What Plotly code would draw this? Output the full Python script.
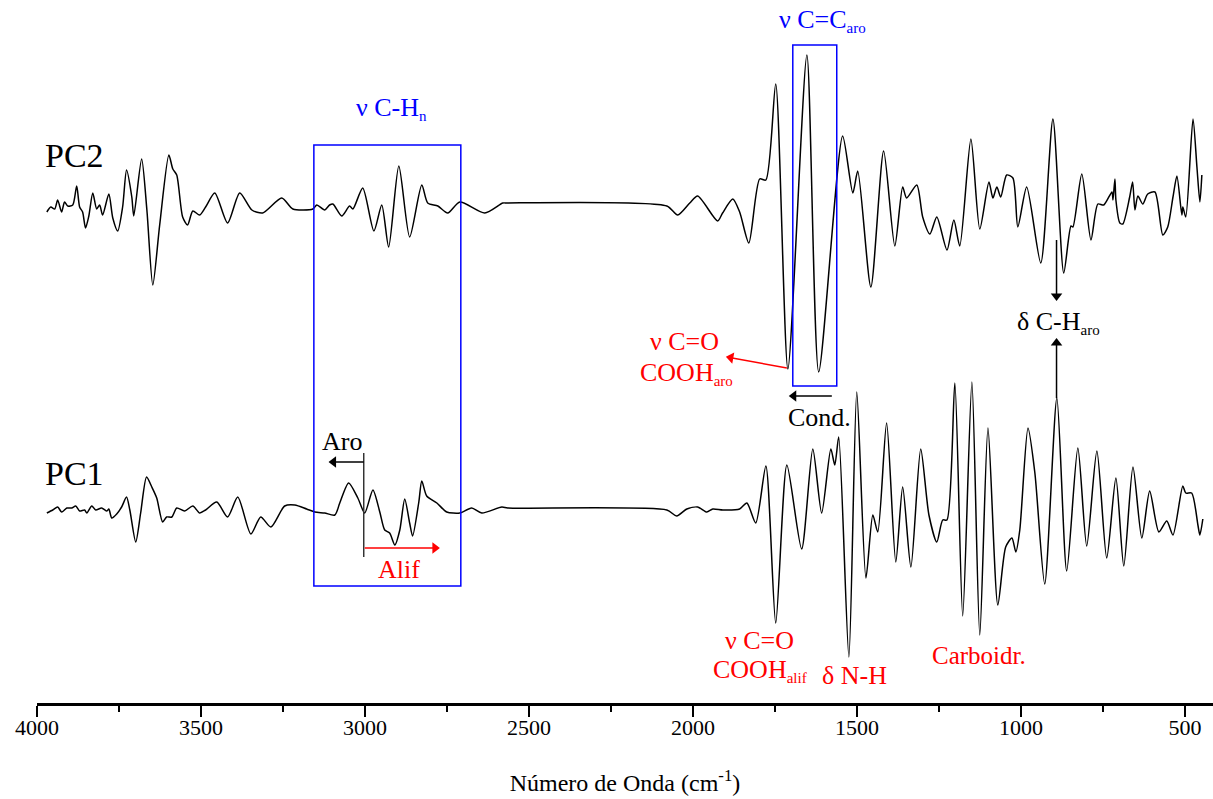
import plotly.graph_objects as go

# ---------------- data ----------------
# wavenumber (cm-1) and loading (arbitrary units) for PC2
pc2_wn = [3970, 3958, 3946, 3937, 3925, 3916, 3906, 3891, 3879, 3870, 3861, 3852, 3842, 3830,
          3818, 3809, 3800, 3781, 3769, 3754, 3739, 3727, 3711, 3705, 3681, 3665, 3647, 3626,
          3598, 3586, 3574, 3556, 3541, 3525, 3504, 3486, 3458, 3419, 3382, 3345, 3312, 3254,
          3220, 3159, 3147, 3123, 3108, 3098, 3071, 3047, 3037, 3007, 2973, 2949, 2928, 2897,
          2864, 2827, 2809, 2778, 2748, 2711, 2635, 2580, 2568, 2080, 2047, 2010, 1986, 1925,
          1910, 1879, 1858, 1830, 1797, 1778, 1748, 1711, 1653, 1617, 1544, 1513, 1498, 1458,
          1419, 1385, 1361, 1349, 1318, 1300, 1278, 1257, 1226, 1205, 1187, 1153, 1126, 1098,
          1086, 1074, 1062, 1044, 1025, 1010, 983, 940, 903, 870, 848, 842, 815, 787, 766, 748,
          723, 720, 714, 711, 699, 690, 669, 660, 653, 644, 629, 614, 592, 568, 553, 537, 525,
          510, 507, 498, 476, 464, 455, 449]
pc2_val = [-0.05, 0.0, -0.02, 0.07, -0.05, 0.05, 0.01, 0.02, 0.21, 0.0, -0.05, -0.21, -0.09, 0.14,
           -0.02, 0.02, -0.08, 0.13, -0.11, -0.24, 0.0, 0.37, 0.10, -0.09, 0.48, -0.03, -0.78, -0.18,
           0.52, 0.38, 0.32, -0.10, -0.18, -0.04, -0.08, 0.0, 0.14, -0.16, 0.14, -0.03, -0.06, 0.09,
           -0.02, -0.02, 0.02, -0.03, 0.02, 0.03, -0.09, 0.01, -0.02, 0.19, -0.24, 0.02, -0.40, 0.41,
           -0.30, 0.22, 0.04, 0.01, -0.06, 0.05, -0.06, 0.04, 0.04, 0.01, -0.08, 0.04, 0.11, -0.14,
           -0.06, 0.08, -0.05, -0.36, 0.28, 0.27, 1.23, -1.62, 1.52, -1.65, 0.71, 0.14, 0.36, -0.80,
           0.56, -0.39, 0.20, 0.09, 0.22, -0.10, -0.27, -0.10, -0.43, -0.13, -0.39, 0.68, -0.22, 0.25,
           0.09, 0.20, 0.10, 0.32, 0.29, -0.20, 0.20, -0.56, 0.88, -0.66, -0.19, -0.20, 0.33, -0.33,
           0.03, 0.02, 0.15, 0.07, 0.28, 0.07, -0.16, -0.17, 0.10, 0.25, -0.03, 0.11, 0.03, 0.13,
           0.15, -0.28, -0.20, 0.10, 0.31, -0.08, 0.0, -0.10, 0.88, 0.40, 0.05, 0.32]

# wavenumber (cm-1) and loading (arbitrary units) for PC1
pc1_wn = [3970, 3952, 3937, 3925, 3909, 3894, 3882, 3870, 3855, 3848, 3833, 3821, 3803, 3787,
          3781, 3772, 3757, 3742, 3727, 3717, 3699, 3684, 3666, 3650, 3635, 3617, 3605, 3589,
          3574, 3550, 3525, 3504, 3486, 3452, 3419, 3388, 3348, 3318, 3287, 3245, 3214, 3178,
          3153, 3123, 3092, 3077, 3050, 3022, 3001, 2976, 2955, 2940, 2925, 2909, 2894, 2879,
          2864, 2855, 2836, 2827, 2812, 2781, 2751, 2711, 2675, 2644, 2583, 2565, 2080, 2050,
          2019, 1986, 1958, 1940, 1909, 1858, 1836, 1809, 1778, 1748, 1714, 1669, 1635, 1608,
          1580, 1568, 1556, 1525, 1501, 1473, 1452, 1437, 1410, 1382, 1361, 1336, 1306, 1281,
          1257, 1239, 1226, 1202, 1178, 1150, 1126, 1101, 1071, 1047, 1028, 1016, 1004, 979,
          958, 928, 891, 861, 827, 800, 769, 739, 711, 687, 659, 632, 608, 580, 556, 537, 507,
          498, 480, 461, 455, 446]
pc1_val = [-0.03, 0.0, 0.03, -0.02, 0.02, 0.02, 0.04, -0.01, 0.0, -0.03, 0.04, 0.0, 0.02, -0.01,
           0.01, -0.08, -0.04, 0.03, 0.13, 0.0, -0.32, -0.03, 0.33, 0.23, 0.12, -0.12, -0.07, -0.07,
           0.02, -0.01, 0.04, -0.03, 0.0, 0.08, -0.07, 0.13, -0.24, -0.07, -0.17, 0.04, 0.05, 0.01,
           -0.02, -0.03, -0.05, 0.07, 0.27, 0.12, -0.03, 0.20, -0.02, -0.20, -0.23, -0.35, -0.20, 0.11,
           -0.13, -0.26, 0.08, 0.29, 0.14, 0.07, -0.02, -0.03, 0.02, -0.03, 0.03, 0.02, 0.0, -0.06,
           0.01, 0.03, -0.02, 0.01, 0.0, 0.01, 0.07, -0.13, 0.44, -1.13, 0.45, -0.39, 0.61, -0.03,
           0.61, 0.45, 0.73, -1.47, 1.18, -0.68, -0.05, -0.22, 0.87, -0.52, 0.23, -0.57, 0.61, -0.05,
           -0.32, -0.10, -0.10, 1.27, -1.06, 1.28, -1.25, 0.82, -0.95, -0.37, -0.28, -0.42, -0.20, 0.82,
           0.37, -0.74, 1.12, -0.61, 0.62, -0.36, 0.59, -0.48, 0.32, -0.56, 0.43, -0.28, 0.19, -0.22,
           -0.11, -0.25, 0.24, 0.17, 0.17, -0.15, -0.25, -0.09]

x_ticks = [4000, 3500, 3000, 2500, 2000, 1500, 1000, 500]
x_title = "Número de Onda (cm<sup>-1</sup>)"

# ---------------- layout constants ----------------
PC2_OFFSET = 4.96
PC1_OFFSET = 1.93
FONT = "Liberation Serif"
RED = "#ff0000"
BLUE = "#0000ff"

fig = go.Figure()
fig.add_trace(go.Scatter(x=pc2_wn, y=[v + PC2_OFFSET for v in pc2_val], mode="lines",
                         line=dict(color="black", width=1.5, shape="spline", smoothing=0.7),
                         showlegend=False, hoverinfo="skip"))
fig.add_trace(go.Scatter(x=pc1_wn, y=[v + PC1_OFFSET for v in pc1_val], mode="lines",
                         line=dict(color="black", width=1.5, shape="spline", smoothing=0.7),
                         showlegend=False, hoverinfo="skip"))

# boxes
fig.add_shape(type="rect", x0=3156, x1=2708, y0=1.17, y1=5.58, line=dict(color=BLUE, width=1.5))
fig.add_shape(type="rect", x0=1696, x1=1562, y0=3.17, y1=6.58, line=dict(color=BLUE, width=1.5))
# divider Aro / Alif
fig.add_shape(type="line", x0=3004, x1=3004, y0=1.46, y1=2.50, line=dict(color="#333333", width=1.5))

def txt(x, y, s, color="black", size=26, anchor="left"):
    fig.add_annotation(x=x, y=y, xref="x", yref="y", text=s, showarrow=False,
                       xanchor=anchor, yanchor="middle",
                       font=dict(family=FONT, size=size, color=color))

def arrow(x_tail, y_tail, x_head, y_head, symbol, color="black", angle=0):
    fig.add_shape(type="line", x0=x_tail, y0=y_tail, x1=x_head, y1=y_head,
                  line=dict(color=color, width=1.5))
    fig.add_trace(go.Scatter(x=[x_head], y=[y_head], mode="markers",
                             marker=dict(symbol=symbol, size=10, color=color, angle=angle,
                                         line=dict(width=0)),
                             showlegend=False, hoverinfo="skip"))

sub = lambda s, sz=15: f"<sub><span style='font-size:{sz}px'>{s}</span></sub>"

txt(3983, 5.48, "PC2", size=34)
txt(3983, 2.30, "PC1", size=34)
txt(3034, 5.95, "ν C-H" + sub("n"), color=BLUE)
txt(1745, 6.83, "ν C=C" + sub("aro"), color=BLUE)
txt(2025, 3.62, "ν C=O", color=RED, anchor="center")
txt(2169, 3.30, "COOH" + sub("aro"), color=RED)
txt(1717, 2.86, "Cond.")
txt(1019, 3.81, "δ C-H" + sub("aro"))
txt(3138, 2.62, "Aro")
txt(2967, 1.34, "Alif", color=RED)
txt(4001, 0.81, "ν: estiramento", size=30)
txt(4001, 0.46, "δ: deformação angular", size=30)
txt(1909, 0.63, "ν C=O", color=RED)
txt(1946, 0.33, "COOH" + sub("alif"), color=RED)
txt(1614, 0.28, "δ N-H", color=RED)
txt(1278, 0.48, "Carboidr.", color=RED, size=25)

arrow(3004, 2.41, 3096, 2.41, "triangle-left")
arrow(3001, 1.55, 2787, 1.55, "triangle-right", RED)
arrow(1714, 3.35, 1885, 3.453, "triangle-left", RED, angle=10)
arrow(1577, 3.07, 1693, 3.07, "triangle-left")
arrow(892, 4.63, 892, 4.07, "triangle-down")
arrow(892, 3.05, 892, 3.60, "triangle-up")

fig.update_layout(
    width=1213, height=799,
    margin=dict(l=37, r=0, t=0, b=96),
    paper_bgcolor="white", plot_bgcolor="white",
    font=dict(family=FONT, color="black"),
    xaxis=dict(range=[4000, 415], tickvals=x_ticks, ticks="outside", ticklen=11, tickwidth=1.5,
               tickcolor="black", showline=True, linewidth=2.5, linecolor="black",
               showgrid=False, zeroline=False, tickfont=dict(family=FONT, size=22),
               ticklabelstandoff=-8,
               minor=dict(dtick=250, tick0=0, ticks="outside", ticklen=6, tickwidth=1.5,
                          tickcolor="black", showgrid=False),
               title=dict(text=x_title, font=dict(family=FONT, size=24), standoff=36)),
    yaxis=dict(range=[0, 7.03], visible=False, showgrid=False, zeroline=False),
)

fig.write_html("out.html", config={"displayModeBar": False},
               post_script="document.body.style.margin='0';")
